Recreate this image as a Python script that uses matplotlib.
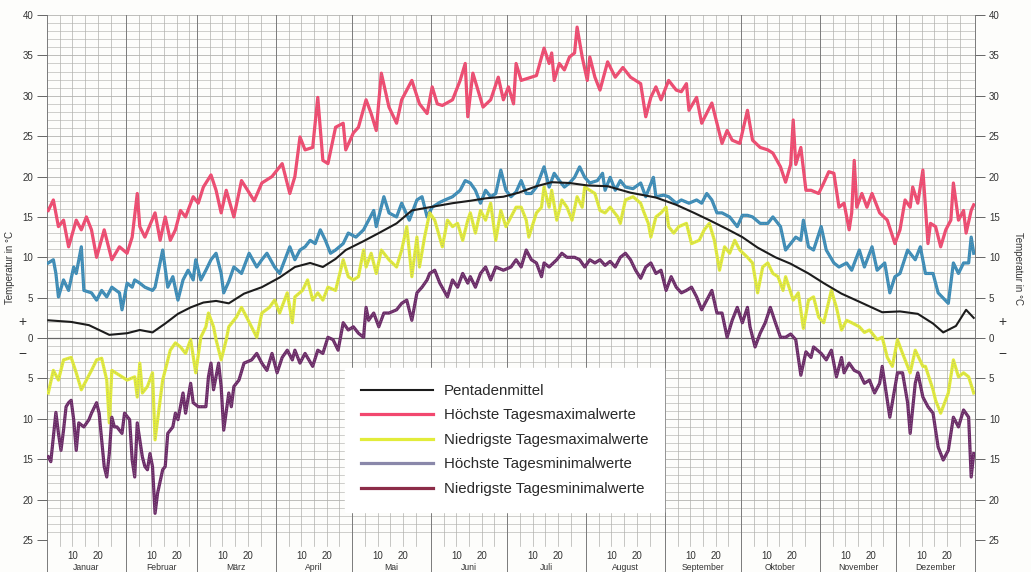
import numpy as np
import matplotlib.pyplot as plt
from matplotlib.lines import Line2D

plt.rcParams['font.family'] = ['Liberation Sans', 'DejaVu Sans']

# Monate (Tage je Monat) und Beschriftungen
month_names = ['Januar', 'Februar', 'März', 'April', 'Mai', 'Juni', 'Juli',
               'August', 'September', 'Oktober', 'November', 'Dezember']
month_len = [31, 28, 31, 30, 31, 30, 31, 31, 30, 31, 30, 31]

# Pentadenmittel
pent_days = [1, 10, 17, 25, 32, 37, 42, 47, 52, 57, 62, 67, 72, 78, 85, 92, 98, 104, 109,
             114, 118, 125, 131, 138, 144, 151, 160, 167, 173, 180, 186, 193, 199, 206,
             213, 221, 230, 240, 248, 255, 261, 268, 274, 280, 287, 293, 300, 306, 313,
             320, 329, 336, 343, 349, 353, 358, 362, 365]
pent_vals = [2.2, 2.0, 1.6, 0.4, 0.6, 1.0, 0.7, 1.8, 3.0, 3.8, 4.4, 4.6, 4.3, 5.5, 6.3, 7.5,
             8.8, 9.3, 8.8, 9.8, 10.9, 12.0, 13.0, 14.2, 15.8, 16.2, 16.7, 17.0, 17.3, 17.5,
             18.0, 18.8, 19.3, 19.2, 18.9, 18.8, 18.0, 17.4, 16.5, 15.5, 14.6, 13.5, 12.5,
             11.2, 10.0, 9.2, 8.0, 6.8, 5.5, 4.5, 3.2, 3.3, 3.0, 1.8, 0.7, 1.5, 3.5, 2.5]

# Höchste Tagesmaximalwerte
hmax_days = [1, 3, 5, 7, 9, 12, 14, 16, 18, 20, 23, 25, 26, 29, 32, 34, 36, 37, 39, 43, 45,
             47, 49, 51, 53, 55, 58, 60, 62, 65, 67, 69, 71, 74, 77, 82, 85, 89, 93, 96, 98,
             100, 102, 105, 107, 109, 111, 114, 117, 118, 121, 123, 126, 128, 130, 132, 135,
             138, 140, 144, 147, 150, 152, 154, 156, 160, 163, 165, 166, 168, 170, 172, 175,
             178, 180, 182, 184, 185, 187, 190, 193, 196, 198, 199, 200, 202, 204, 206, 208,
             209, 211, 213, 214, 216, 218, 221, 224, 227, 230, 234, 236, 238, 240, 242, 245,
             248, 250, 252, 253, 256, 258, 262, 264, 266, 268, 270, 273, 276, 278, 281, 284,
             286, 289, 291, 293, 294, 295, 297, 299, 301, 304, 306, 308, 310, 312, 314, 316,
             317, 318, 319, 321, 323, 325, 328, 331, 334, 336, 338, 340, 341, 343, 345, 347,
             348, 350, 352, 354, 356, 357, 359, 361, 362, 364, 365]
hmax_vals = [15.8, 17.1, 13.8, 14.6, 11.3, 14.6, 13.4, 15.0, 13.4, 10.0, 13.4, 10.9, 9.7,
             11.3, 10.5, 12.5, 17.9, 13.8, 12.5, 15.5, 12.1, 15.0, 12.1, 13.4, 15.8, 15.0,
             17.5, 16.7, 18.7, 20.2, 18.3, 15.5, 18.3, 15.0, 19.5, 17.0, 19.2, 20.0, 21.6,
             17.9, 20.0, 24.9, 23.3, 23.6, 29.8, 22.0, 21.6, 26.1, 26.6, 23.3, 25.4, 26.1,
             29.5, 27.8, 25.7, 32.8, 28.6, 26.6, 29.5, 31.9, 29.0, 27.8, 31.1, 29.0, 28.8,
             29.5, 31.9, 34.0, 27.4, 32.8, 30.7, 28.6, 29.5, 32.3, 29.5, 31.1, 29.0, 34.0,
             31.9, 32.2, 32.5, 35.9, 34.0, 35.3, 31.9, 34.0, 33.2, 34.8, 35.3, 38.5, 34.8,
             31.9, 34.8, 32.3, 30.7, 34.2, 32.3, 33.5, 32.3, 31.5, 27.4, 29.8, 31.1, 29.5,
             31.9, 30.7, 30.5, 31.5, 28.2, 29.8, 26.6, 29.1, 26.6, 24.1, 25.7, 24.5, 24.1,
             28.2, 24.5, 23.6, 23.3, 22.9, 21.2, 19.3, 21.5, 27.0, 21.5, 23.6, 18.3, 18.3,
             17.9, 19.2, 20.6, 20.4, 16.2, 16.7, 13.4, 15.5, 22.0, 16.2, 17.9, 16.2, 17.9,
             15.5, 14.6, 11.7, 13.4, 17.1, 16.2, 18.7, 16.7, 20.8, 11.7, 14.2, 13.8, 11.3,
             13.4, 14.6, 19.2, 14.6, 15.8, 13.0, 15.8, 16.5]

# Niedrigste Tagesmaximalwerte
nmax_days = [1, 3, 5, 7, 10, 12, 14, 16, 18, 20, 22, 24, 25, 26, 30, 32, 35, 36, 37, 38, 40,
             42, 43, 46, 49, 51, 53, 55, 57, 59, 61, 63, 64, 66, 67, 69, 71, 72, 75, 77, 79,
             83, 85, 88, 90, 92, 95, 97, 98, 101, 103, 105, 107, 109, 111, 114, 117, 119, 121,
             123, 125, 126, 128, 130, 132, 135, 138, 140, 142, 144, 146, 147, 149, 151, 153,
             156, 158, 160, 162, 164, 166, 167, 169, 171, 173, 175, 177, 179, 181, 183, 185,
             187, 189, 190, 193, 195, 196, 198, 199, 201, 203, 205, 207, 209, 211, 212, 214,
             216, 218, 220, 222, 225, 226, 228, 231, 234, 235, 237, 238, 240, 242, 244, 245,
             247, 249, 252, 254, 257, 259, 261, 263, 265, 267, 269, 271, 273, 276, 278, 280,
             282, 284, 286, 288, 290, 291, 294, 296, 298, 300, 302, 304, 306, 309, 311, 313,
             315, 317, 320, 322, 324, 327, 329, 331, 333, 335, 337, 340, 342, 345, 346, 349,
             350, 352, 355, 357, 359, 361, 363, 365]
nmax_vals = [-6.8, -4.0, -5.2, -2.7, -2.4, -4.3, -6.4, -5.2, -4.0, -2.7, -2.5, -5.2, -10.5,
             -4.0, -4.8, -5.2, -4.8, -7.3, -3.1, -6.8, -6.0, -4.3, -12.6, -5.2, -1.5, -0.6,
             -1.1, -1.9, -0.2, -4.3, 0.1, 1.4, 3.1, 1.4, -0.2, -2.7, -0.2, 1.4, 2.6, 3.8, 2.6,
             0.1, 3.1, 3.8, 4.7, 3.1, 5.6, 1.9, 5.1, 5.9, 7.2, 4.7, 5.6, 4.7, 6.3, 5.9, 9.7,
             7.6, 7.2, 7.6, 10.9, 8.8, 10.5, 8.0, 10.9, 9.7, 8.8, 10.9, 13.8, 7.6, 12.5, 8.8,
             12.5, 15.5, 14.6, 11.3, 14.6, 13.8, 14.2, 12.1, 14.6, 15.5, 13.0, 15.8, 14.6,
             16.7, 12.1, 15.8, 13.8, 15.0, 16.2, 16.2, 14.6, 12.5, 15.5, 16.2, 18.7, 16.2,
             18.3, 14.6, 17.1, 16.2, 14.6, 17.5, 16.2, 18.7, 18.3, 17.9, 15.8, 15.5, 16.2,
             15.0, 14.2, 17.1, 17.5, 16.7, 15.8, 14.2, 12.5, 15.0, 15.5, 16.2, 13.8, 13.0,
             13.8, 14.2, 11.7, 12.1, 13.4, 14.2, 12.1, 8.4, 11.3, 10.5, 12.1, 10.9, 10.0, 9.3,
             5.6, 8.8, 9.3, 8.0, 7.6, 5.9, 7.6, 4.7, 5.6, 1.2, 4.7, 5.1, 2.6, 1.9, 5.9, 3.8,
             1.0, 2.2, 1.9, 1.4, 0.7, 1.0, -0.2, 0.1, -2.4, -3.5, -0.2, -1.9, -4.3, -1.5,
             -3.5, -3.5, -6.4, -7.7, -9.3, -6.8, -2.7, -4.8, -4.3, -4.8, -6.8]

# Höchste Tagesminimalwerte
hmin_days = [1, 3, 4, 5, 7, 9, 11, 12, 14, 15, 18, 20, 22, 24, 26, 29, 30, 32, 34, 35, 37,
             39, 42, 43, 46, 48, 50, 52, 54, 56, 58, 59, 61, 63, 65, 67, 69, 70, 72, 74, 77,
             80, 83, 85, 87, 90, 92, 95, 96, 98, 100, 102, 104, 106, 108, 110, 112, 114, 117,
             119, 122, 125, 127, 129, 130, 133, 135, 138, 140, 143, 146, 148, 150, 152, 155,
             157, 160, 163, 165, 167, 169, 171, 173, 175, 177, 179, 181, 183, 185, 187, 189,
             191, 193, 196, 198, 200, 202, 204, 206, 208, 210, 212, 214, 217, 219, 220, 222,
             224, 226, 228, 231, 234, 236, 239, 240, 243, 245, 248, 250, 253, 256, 258, 260,
             262, 264, 266, 269, 272, 274, 276, 278, 281, 284, 286, 289, 291, 294, 295, 297,
             298, 300, 302, 305, 307, 310, 312, 315, 317, 320, 322, 325, 327, 330, 332, 334,
             336, 339, 342, 344, 346, 349, 351, 355, 357, 359, 361, 363, 364, 365]
hmin_vals = [9.3, 9.7, 8.0, 5.1, 7.2, 5.9, 8.8, 8.0, 11.3, 5.9, 5.6, 4.7, 5.9, 5.1, 6.3, 5.6,
             3.5, 6.8, 6.3, 7.2, 6.8, 6.3, 5.9, 6.3, 10.9, 6.3, 7.6, 4.7, 7.2, 8.4, 7.2, 9.7,
             7.2, 8.4, 9.7, 10.5, 8.0, 5.6, 7.0, 8.8, 8.0, 10.5, 8.8, 9.7, 10.5, 8.8, 8.0,
             10.5, 11.3, 9.7, 10.9, 11.3, 12.1, 11.7, 13.4, 12.1, 10.5, 10.9, 11.7, 13.0,
             12.5, 13.4, 14.6, 15.8, 13.8, 17.5, 15.5, 15.0, 16.7, 14.6, 17.1, 17.5, 15.0,
             16.2, 16.8, 17.1, 17.5, 18.3, 19.5, 19.2, 18.3, 16.7, 18.3, 17.5, 17.9, 20.8,
             18.3, 17.5, 18.1, 19.5, 17.9, 17.9, 18.7, 21.2, 18.7, 20.4, 19.5, 18.7, 19.2,
             19.9, 21.2, 19.9, 19.2, 19.5, 20.4, 18.3, 19.9, 18.3, 19.5, 18.7, 18.5, 19.2,
             17.5, 19.9, 17.5, 17.7, 17.5, 16.7, 17.1, 16.7, 17.1, 16.7, 17.9, 17.1, 15.5,
             15.5, 15.0, 13.8, 15.2, 15.2, 15.0, 14.2, 14.2, 15.0, 13.8, 10.9, 12.1, 12.5,
             12.1, 14.6, 11.3, 10.9, 13.8, 10.9, 9.3, 8.8, 9.3, 8.4, 10.9, 8.8, 11.3, 8.4,
             9.3, 5.6, 7.6, 8.0, 10.9, 9.7, 11.3, 8.0, 8.0, 5.6, 4.3, 9.3, 8.0, 9.3, 9.3,
             12.5, 10.5]

# Niedrigste Tagesminimalwerte
nmin_days = [1, 2, 3, 4, 5, 6, 7, 8, 9, 10, 11, 12, 13, 15, 17, 18, 20, 21, 23, 24, 25, 26,
             27, 28, 30, 31, 33, 34, 35, 36, 38, 39, 40, 41, 42, 43, 44, 46, 47, 48, 50, 51,
             52, 54, 55, 57, 58, 60, 63, 64, 65, 66, 68, 69, 70, 72, 73, 74, 76, 78, 81, 83,
             85, 87, 89, 91, 93, 95, 97, 98, 100, 102, 105, 107, 109, 111, 113, 115, 117, 119,
             121, 123, 125, 126, 127, 129, 131, 133, 135, 138, 140, 142, 144, 146, 148, 150,
             151, 153, 155, 158, 160, 162, 164, 166, 167, 169, 171, 173, 175, 177, 180, 183,
             185, 187, 189, 191, 193, 195, 196, 198, 201, 203, 205, 208, 210, 212, 214, 216,
             218, 220, 222, 224, 226, 228, 230, 232, 234, 236, 238, 240, 242, 244, 246, 248,
             250, 252, 254, 256, 258, 260, 262, 264, 266, 268, 270, 272, 274, 276, 277, 279,
             281, 283, 285, 287, 289, 291, 293, 295, 297, 299, 301, 302, 305, 307, 309, 311,
             313, 314, 316, 318, 320, 322, 324, 326, 328, 329, 331, 332, 335, 337, 339, 340,
             342, 343, 345, 347, 349, 351, 353, 355, 357, 359, 361, 363, 364, 365]
nmin_vals = [-14.7, -15.3, -12.3, -9.2, -11.8, -13.9, -11.4, -8.5, -8.0, -7.7, -10.1, -13.9,
             -10.5, -11.0, -10.1, -9.3, -8.0, -9.3, -15.9, -17.2, -14.3, -9.8, -11.0, -11.0,
             -11.8, -9.3, -10.1, -15.1, -17.2, -10.5, -14.7, -15.9, -16.3, -14.3, -15.9,
             -21.7, -19.2, -16.3, -15.9, -11.8, -11.0, -9.3, -10.1, -6.8, -9.3, -5.6, -8.0,
             -8.5, -8.5, -4.8, -3.1, -6.4, -3.1, -6.0, -11.4, -6.8, -8.5, -6.0, -5.2, -3.1,
             -2.7, -1.9, -3.1, -4.0, -1.9, -4.3, -2.4, -1.5, -2.7, -1.5, -3.1, -1.9, -3.5,
             -1.5, -1.9, 0.1, -0.2, -1.5, 1.9, 1.0, 1.4, 0.6, 0.1, 3.8, 2.2, 3.1, 1.4, 3.1,
             3.1, 3.5, 4.3, 4.7, 2.2, 5.6, 6.3, 7.2, 8.0, 8.4, 6.8, 5.1, 7.2, 6.3, 8.0, 6.8,
             7.6, 6.3, 8.0, 8.8, 7.2, 8.8, 8.4, 8.8, 9.7, 8.8, 10.9, 9.7, 9.3, 7.6, 9.3, 8.8,
             9.7, 10.5, 10.0, 10.0, 9.7, 8.8, 9.7, 9.3, 9.7, 9.0, 9.5, 8.8, 10.0, 10.5, 9.7,
             8.4, 7.4, 8.8, 9.3, 8.0, 8.4, 5.9, 7.6, 6.3, 5.6, 5.9, 6.3, 5.1, 3.5, 4.7, 5.9,
             3.1, 3.1, 0.1, 2.2, 3.8, 1.9, 3.8, 1.4, -1.1, 0.6, 1.9, 3.8, 1.9, 0.1, 0.1, 0.5,
             -0.2, -4.6, -1.7, -2.4, -1.1, -1.9, -2.7, -1.5, -4.8, -2.4, -4.3, -3.1, -4.0,
             -4.3, -5.6, -5.2, -6.8, -5.6, -3.5, -7.7, -9.8, -4.3, -4.3, -8.0, -11.8, -5.6,
             -4.3, -7.3, -8.5, -9.3, -13.5, -15.1, -13.9, -9.8, -11.0, -8.9, -9.8, -17.2,
             -14.3]

series_labels = ['Pentadenmittel', 'Höchste Tagesmaximalwerte', 'Niedrigste Tagesmaximalwerte',
                 'Höchste Tagesminimalwerte', 'Niedrigste Tagesminimalwerte']

fig = plt.figure(figsize=(10.31, 5.72), dpi=100)
fig.patch.set_facecolor('#fdfdfb')
ax = fig.add_axes([47 / 1031, 32 / 572, 928 / 1031, 525 / 572])
ax.set_facecolor('#fdfdfb')
ax.set_xlim(0, 365)
ax.set_ylim(-25, 40)

# Raster
month_starts = np.concatenate([[0], np.cumsum(month_len)])
for t in range(-25, 41):
    if t == 0:
        ax.axhline(t, color='#666666', lw=0.9, zorder=1)
    else:
        ax.axhline(t, color='#b4b4b0', lw=0.45 if t % 5 else 0.6, zorder=0)
for i, m0 in enumerate(month_starts[:-1]):
    for k in (5, 10, 15, 20, 25):
        ax.plot([m0 + k, m0 + k], [-25.8, 40], color='#b0b0ac', lw=0.5, zorder=0, clip_on=False)
for m0 in month_starts:
    ax.plot([m0, m0], [-29, 40], color='#7a7a7a', lw=0.7, zorder=1, clip_on=False)

def draw(days, vals, color, lw):
    x = np.array(days) - 0.5
    ax.plot(x, vals, color=color, lw=lw, zorder=3, solid_joinstyle='round')
    ax.plot(x, vals, color='#9a9a9a', lw=0.6, ls=(0, (1, 2)), zorder=4, alpha=0.7)

draw(hmax_days, hmax_vals, '#f2486f', 2.3)
draw(hmin_days, hmin_vals, '#3a8cb8', 2.3)
draw(nmax_days, nmax_vals, '#e2ec3a', 2.3)
draw(nmin_days, nmin_vals, '#6c2a68', 2.3)
ax.plot(np.array(pent_days) - 0.5, pent_vals, color='#1c1c1c', lw=1.5, zorder=5)

# Achsen
for s in ax.spines.values():
    s.set_visible(False)
yt = np.arange(-25, 41, 5)
ax.set_yticks(yt)
ax.set_yticklabels([str(abs(v)) for v in yt])
ax.tick_params(axis='y', which='both', left=True, right=True, labelleft=True, labelright=True,
               length=7, width=0.7, color='#666666', labelsize=7, labelcolor='#333333', pad=3)
ax.set_xticks([])

tr = ax.get_xaxis_transform()
for i, name in enumerate(month_names):
    m0 = month_starts[i]
    ax.text(m0 + 10, -0.031, '10', transform=tr, ha='center', va='center', fontsize=7, color='#333333')
    ax.text(m0 + 20, -0.031, '20', transform=tr, ha='center', va='center', fontsize=7, color='#333333')
    ax.text(m0 + month_len[i] / 2, -0.052, name, transform=tr, ha='center', va='center',
            fontsize=6.2, color='#333333')

fig.text(10 / 1031, 1 - 268 / 572, 'Temperatur in °C', rotation=90, ha='center', va='center',
         fontsize=7, color='#333333')
fig.text(1018 / 1031, 1 - 268 / 572, 'Temperatur in °C', rotation=-90, ha='center', va='center',
         fontsize=7, color='#333333')
for xp in (22, 1002):
    fig.text(xp / 1031, 1 - 322 / 572, '+', ha='center', va='center', fontsize=10, color='#333333')
    fig.text(xp / 1031, 1 - 354 / 572, '−', ha='center', va='center', fontsize=10, color='#333333')

handles = [Line2D([], [], color='#1c1c1c', lw=1.5),
           Line2D([], [], color='#f2486f', lw=2.3),
           Line2D([], [], color='#e2ec3a', lw=2.3),
           Line2D([], [], color='#8a88aa', lw=2.3),
           Line2D([], [], color='#8c2c48', lw=2.3)]
leg = ax.legend(handles, series_labels, loc='upper left', bbox_to_anchor=(298 / 928, 172 / 525),
                borderaxespad=0, frameon=True, fancybox=False, framealpha=1,
                facecolor='white', edgecolor='white', fontsize=10.8, handlelength=4.8,
                handletextpad=0.75, labelspacing=0.7, borderpad=1.05)
leg.set_zorder(10)
for t in leg.get_texts():
    t.set_color('#2a2a2a')

plt.savefig('out.png', dpi=100)
